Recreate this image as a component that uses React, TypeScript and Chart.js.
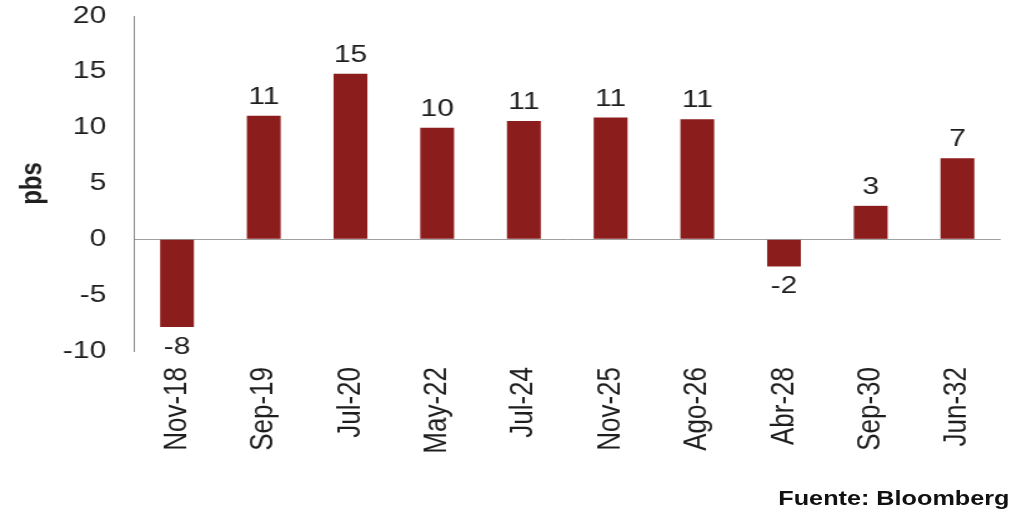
import { useEffect, useRef } from "react";
import { Chart, registerables } from "chart.js";

Chart.register(...registerables);

const categories = ["Nov-18", "Sep-19", "Jul-20", "May-22", "Jul-24", "Nov-25", "Ago-26", "Abr-28", "Sep-30", "Jun-32"];
const values = [-7.86, 11.06, 14.82, 10.0, 10.6, 10.9, 10.76, -2.43, 3.0, 7.27];
const yMin = -10;
const yMax = 20;
const yStep = 5;
const axisTitle = "pbs";
const sourceNote = "Fuente: Bloomberg";

const W = 814;
const H = 513;
const SX = 1017 / W;
const FONT = '"Liberation Sans", Arial, sans-serif';
const BAR = "#8C1D1D";
const TEXT = "#1e1e1e";

export default function App() {
  const ref = useRef<HTMLCanvasElement | null>(null);

  useEffect(() => {
    const canvas = ref.current;
    if (!canvas) return;

    const labelsPlugin = {
      id: "valueLabels",
      afterDatasetsDraw(chart: any) {
        const ctx = chart.ctx;
        const meta = chart.getDatasetMeta(0);
        ctx.save();
        ctx.font = `24px ${FONT}`;
        ctx.fillStyle = TEXT;
        ctx.textAlign = "center";
        meta.data.forEach((bar: any, i: number) => {
          const v = values[i];
          const txt = String(Math.round(v));
          if (v >= 0) {
            ctx.textBaseline = "alphabetic";
            ctx.fillText(txt, bar.x, bar.y - 12);
          } else {
            ctx.textBaseline = "top";
            ctx.fillText(txt, bar.x, bar.y + 8);
          }
        });
        const ca = chart.chartArea;
        ctx.translate(26, (ca.top + ca.bottom) / 2);
        ctx.rotate(-Math.PI / 2);
        ctx.font = `bold 24px ${FONT}`;
        ctx.textBaseline = "middle";
        ctx.fillText(axisTitle, 0, 0);
        ctx.restore();
      },
    };

    const chart = new Chart(canvas, {
      type: "bar",
      data: {
        labels: categories,
        datasets: [
          {
            data: values,
            backgroundColor: BAR,
            borderWidth: 0,
            categoryPercentage: 1,
            barPercentage: 0.39,
          },
        ],
      },
      options: {
        animation: false,
        responsive: false,
        devicePixelRatio: 1,
        layout: { padding: { top: 16, right: 13, left: 0, bottom: 0 } },
        plugins: {
          legend: { display: false },
          tooltip: { enabled: false },
        },
        scales: {
          x: {
            grid: { display: false },
            border: { display: false },
            ticks: {
              autoSkip: false,
              maxRotation: 90,
              minRotation: 90,
              padding: 8,
              color: TEXT,
              font: { family: FONT, size: 26 },
            },
            afterFit(scale: any) {
              scale.height = H - 351;
              scale.paddingLeft = 0;
              scale.paddingRight = 0;
            },
          },
          y: {
            min: yMin,
            max: yMax,
            border: { display: true, color: "#8a8a8a", width: 1 },
            grid: {
              drawTicks: false,
              color: (c: any) => (c.tick && c.tick.value === 0 ? "#a0a0a0" : "rgba(0,0,0,0)"),
              lineWidth: 1,
            },
            ticks: {
              stepSize: yStep,
              padding: 22,
              color: TEXT,
              font: { family: FONT, size: 24 },
            },
            afterFit(scale: any) {
              scale.width = 107;
              scale.paddingTop = 0;
              scale.paddingBottom = 0;
            },
          },
        },
      },
      plugins: [labelsPlugin],
    });

    return () => chart.destroy();
  }, []);

  return (
    <div
      style={{
        position: "fixed",
        left: 0,
        top: 0,
        width: W,
        height: H,
        transform: `scaleX(${SX})`,
        transformOrigin: "0 0",
        background: "#fff",
      }}
    >
      <canvas ref={ref} width={W} height={H} style={{ display: "block", width: W, height: H }} />
      <div
        style={{
          position: "absolute",
          right: 6,
          top: 488,
          fontFamily: FONT,
          fontWeight: "bold",
          fontSize: "20.2px",
          lineHeight: "20px",
          color: "#111",
          whiteSpace: "nowrap",
        }}
      >
        {sourceNote}
      </div>
    </div>
  );
}
